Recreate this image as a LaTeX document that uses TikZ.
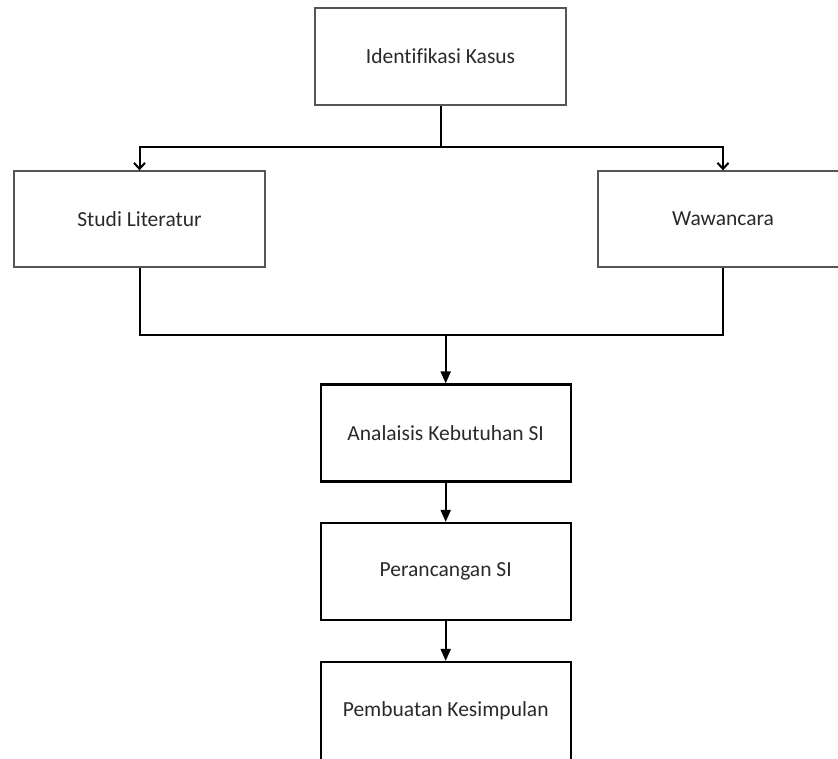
\documentclass[tikz,border=0pt]{standalone}
\usepackage{fontspec}
\setmainfont{Carlito}[Ligatures={NoCommon}]
\usetikzlibrary{arrows.meta}
\definecolor{txt}{HTML}{2A2A2A}
\definecolor{thinline}{HTML}{555555}
\tikzset{
  thinbox/.style={draw=thinline, line width=1.3pt, fill=white, text=txt, minimum width=251pt, minimum height=97pt, inner sep=0pt, font=\fontsize{21.5}{25}\selectfont},
  thickbox/.style={draw=black, line width=2.2pt, fill=white, text=txt, minimum width=250pt, minimum height=97pt, inner sep=0pt, font=\fontsize{21.5}{25}\selectfont},
  conn/.style={draw=black, line width=2pt},
  openarr/.style={conn, -{Straight Barb[length=6pt,width=11pt,line width=2pt]}},
  fillarr/.style={conn, -{Triangle[length=12pt,width=10pt]}}
}
\begin{document}
\begin{tikzpicture}[x=1pt,y=-1pt]
\clip (0,0) rectangle (838,758);
\fill[white] (0,0) rectangle (838,758);
\node[thinbox] (top) at (440.5,56.5) {Identifikasi Kasus};
\node[thinbox, minimum height=96pt] (lit) at (139.5,219) {Studi Literatur};
\node[thinbox, minimum width=250pt, minimum height=96pt] (waw) at (723,219) {Wawancara};
\node[thickbox] (ana) at (445.7,433) {Analaisis Kebutuhan SI};
\node[thickbox] (per) at (445.7,571.5) {Perancangan SI};
\node[thickbox, minimum height=98pt] (pem) at (445.7,711) {Pembuatan Kesimpulan};
\coordinate (split) at (440.5,146.7);
\coordinate (merge) at (445.7,335);
\draw[conn] (top.south) -- (split);
\draw[openarr] (split) -| (lit.north);
\draw[openarr] (split) -| (waw.north);
\draw[conn] (lit.south) |- (merge);
\draw[conn] (waw.south) |- (merge);
\draw[fillarr] (merge) -- (ana.north);
\draw[fillarr] (ana.south) -- (per.north);
\draw[fillarr] (per.south) -- (pem.north);
\end{tikzpicture}
\end{document}
